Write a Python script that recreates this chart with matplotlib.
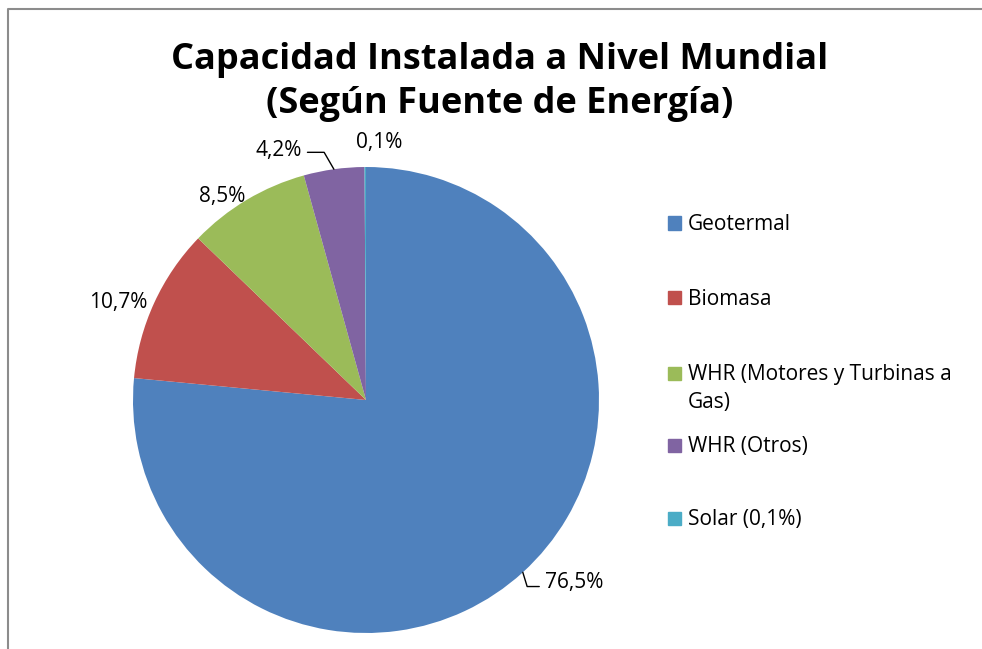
import numpy as np
import matplotlib
matplotlib.use("Agg")
import matplotlib.pyplot as plt
from matplotlib.lines import Line2D
from matplotlib.patches import Rectangle

plt.rcParams["font.family"] = ["Open Sans", "DejaVu Sans"]

TITLE = "Capacidad Instalada a Nivel Mundial\n(Según Fuente de Energía)"
categories = ["Geotermal", "Biomasa", "WHR (Motores y Turbinas a\nGas)",
              "WHR (Otros)", "Solar (0,1%)"]
shares = [76.5, 10.7, 8.5, 4.2, 0.1]
pct_labels = ["76,5%", "10,7%", "8,5%", "4,2%", "0,1%"]
colors = ["#4F81BD", "#C0504D", "#9BBB59", "#8064A2", "#4BACC6"]

W, H = 982, 649
fig = plt.figure(figsize=(W / 100, H / 100), dpi=100)

# pie axes: centre (366, 400) px, radius 233 px
cx, cy, r = 366, 400, 233
ax = fig.add_axes([(cx - r) / W, (H - cy - r) / H, 2 * r / W, 2 * r / H])
wedges, _ = ax.pie(shares, colors=colors, startangle=90, counterclock=False,
                   radius=1, wedgeprops=dict(linewidth=0))
ax.set_xlim(-1, 1)
ax.set_ylim(-1, 1)
ax.set_aspect("auto")
ax.axis("off")

# label placement: (offset px from wedge edge, alignment, leader)
label_style = [
    ((22, -10), "left", dict(arrowstyle="-", lw=1, color="black", shrinkB=0,
                             relpos=(0, 0.3),
                             connectionstyle="angle,angleA=0,angleB=-73,rad=0")),
    ((-7, 0), "right", None),
    ((-1, 3), "right", None),
    ((-32, 19), "right", dict(arrowstyle="-", lw=1, color="black", shrinkB=0,
                              relpos=(1, 0.4),
                              connectionstyle="angle,angleA=0,angleB=-60,rad=0")),
    ((14, 25), "center", None),
]
for w, txt, (off, ha, arrow) in zip(wedges, pct_labels, label_style):
    theta = np.deg2rad((w.theta1 + w.theta2) / 2)
    edge = (np.cos(theta), np.sin(theta))
    ax.annotate(txt, xy=edge, xytext=off, textcoords="offset pixels",
                ha=ha, va="center", fontsize=15, color="black",
                arrowprops=arrow, annotation_clip=False)

fig.text(500 / W, 1 - 82 / H, TITLE, ha="center", va="center", fontsize=26,
         fontweight="bold", linespacing=1.3)

# legend drawn by hand to match the spacing
legend_y = [223, 298, 373, 445, 518]
for lab, col, yy in zip(categories, colors, legend_y):
    fig.patches.append(Rectangle((668 / W, 1 - (yy + 6.5) / H), 13 / W, 13 / H,
                                 transform=fig.transFigure, color=col))
    fig.text(688 / W, 1 - (yy - 9) / H, lab, ha="left", va="top",
             fontsize=15, linespacing=1.45)

# chart frame (only left and top visible in the crop)
fig.add_artist(Line2D([7.5 / W, 7.5 / W, 1], [0, 1 - 9 / H, 1 - 9 / H],
                      transform=fig.transFigure, color="#8C8C8C", lw=1.5))

fig.savefig("out.png", dpi=100)
